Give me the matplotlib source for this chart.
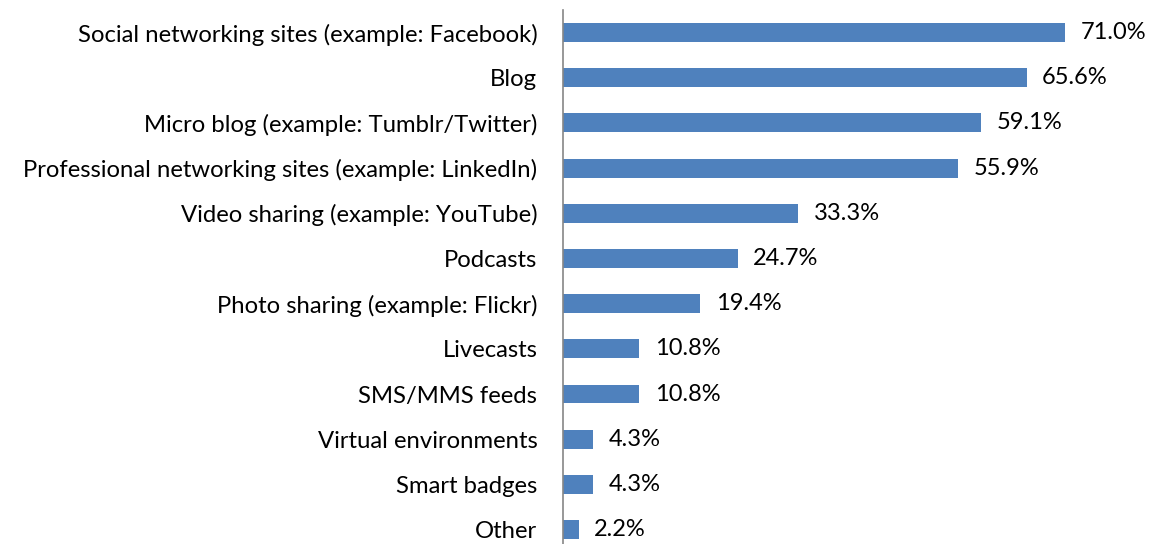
import matplotlib.pyplot as plt

categories = [
    'Social networking sites (example: Facebook)',
    'Blog',
    'Micro blog (example: Tumblr/Twitter)',
    'Professional networking sites (example: LinkedIn)',
    'Video sharing (example: YouTube)',
    'Podcasts',
    'Photo sharing (example: Flickr)',
    'Livecasts',
    'SMS/MMS feeds',
    'Virtual environments',
    'Smart badges',
    'Other',
]
values = [71.0, 65.6, 59.1, 55.9, 33.3, 24.7, 19.4, 10.8, 10.8, 4.3, 4.3, 2.2]

plt.rcParams['font.family'] = ['Lato', 'DejaVu Sans']

fig = plt.figure(figsize=(11.63, 5.44), dpi=100)
ax = fig.add_axes([563 / 1163, 0.0, 600 / 1163, 534 / 544])

pos = list(range(len(values)))
ax.barh(pos, values, height=0.42, color='#4F81BD')

for i, v in enumerate(values):
    ax.text(v + 2.2, i, f'{v:.1f}%', va='center', ha='left', fontsize=17, color='black')

ax.set_xlim(0, 84.9)
ax.set_ylim(11.32, -0.5)
ax.set_yticks(pos)
ax.set_yticklabels(categories, fontsize=17.2)
ax.tick_params(axis='y', length=0, pad=18.5)
ax.set_xticks([])

for side in ['top', 'right', 'bottom']:
    ax.spines[side].set_visible(False)
ax.spines['left'].set_color('#868686')
ax.spines['left'].set_linewidth(1.2)

fig.savefig('out.png', dpi=100)
